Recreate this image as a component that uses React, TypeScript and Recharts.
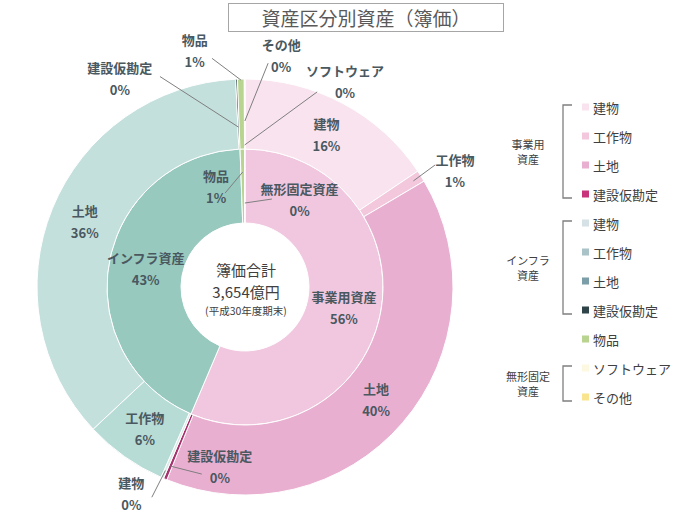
import React from 'react'
import { PieChart, Pie, Cell } from 'recharts'

// 億円（平成30年度期末）
const bizNames = ['建物', '工作物', '土地', '建設仮勘定']
const bizValues = [570, 33, 1448, 10]
const infraNames = ['建物', '工作物', '土地', '建設仮勘定']
const infraValues = [8, 234, 1325, 5]
const goodsName = '物品'
const goodsValue = 19
const intangibleNames = ['ソフトウェア', 'その他']
const intangibleValues = [1, 1]
const groupNames = ['事業用資産', 'インフラ資産', '物品', '無形固定資産']

const sum = (a: number[]) => a.reduce((s, v) => s + v, 0)

const outerData = [
    ...bizNames.map((name, i) => ({ name, value: bizValues[i] })),
    ...infraNames.map((name, i) => ({ name, value: infraValues[i] })),
    { name: goodsName, value: goodsValue },
    ...intangibleNames.map((name, i) => ({ name, value: intangibleValues[i] })),
]
const innerData = [
    { name: groupNames[0], value: sum(bizValues) },
    { name: groupNames[1], value: sum(infraValues) },
    { name: groupNames[2], value: goodsValue },
    { name: groupNames[3], value: sum(intangibleValues) },
]
const TOTAL = sum(outerData.map((d) => d.value))

const outerColors = ['#f9e3ee', '#f3c8dd', '#e9afd0', '#a8326f', '#d9ece8', '#b7dbd5', '#c4e0dc', '#2f4449', '#b8d490', '#fdf8e0', '#f9e590']
const innerColors = ['#f0c7df', '#97c9bf', '#b8d490', '#fdf8e0']
const legendColors = ['#f9e3ee', '#f3c8dd', '#e9afd0', '#c8347c', '#d5e1e4', '#a9c3c8', '#7c9ea8', '#2f4449', '#b8d490', '#fdf8e0', '#f9e590']

// 引き出し線つきラベルの位置（上から時計回りの角度, 半径）
const outerLeaders: Record<number, { at: number[]; from: number; to: number[] }> = {
    1: { at: [61, 240], from: 199, to: [57.3, 226] },
    3: { at: [188, 181], from: 194, to: [193, 192] },
    4: { at: [208.8, 236], from: 200, to: [203.9, 230] },
    7: { at: [329, 243], from: 160, to: [338, 227] },
    8: { at: [348, 242], from: 207, to: [351.8, 231] },
    9: { at: [25.9, 229], from: 142, to: [20.3, 208] },
    10: { at: [8.9, 234], from: 166, to: [5.9, 225] },
}
const innerLeaders: Record<number, { at: number[]; from: number; to: number[] }> = {
    2: { at: [344, 105], from: 115, to: [348, 96] },
    3: { at: [32, 103], from: 84, to: [17, 92] },
}

const FONT = '"Noto Sans CJK JP", "Noto Sans", sans-serif'
const RAD = Math.PI / 180
const pt = (cx: number, cy: number, r: number, cw: number) => ({
    x: cx + r * Math.sin(cw * RAD),
    y: cy - r * Math.cos(cw * RAD),
})

const makeLabel = (leaders: Record<number, { at: number[]; from: number; to: number[] }>) => (props: any) => {
    const { cx, cy, midAngle, innerRadius, outerRadius, index, name, value } = props
    const cw = 90 - midAngle
    const leader = leaders[index]
    const pos = leader ? pt(cx, cy, leader.at[1], leader.at[0]) : pt(cx, cy, (innerRadius + outerRadius) / 2, cw)
    const pct = Math.round((value / TOTAL) * 100)
    let line = null
    if (leader) {
        const a = pt(cx, cy, leader.from, cw)
        const b = pt(cx, cy, leader.to[1], leader.to[0])
        line = <line x1={a.x} y1={a.y} x2={b.x} y2={b.y} stroke="#7f7f7f" strokeWidth={1} />
    }
    return (
        <g>
            {line}
            <text x={pos.x} y={pos.y - 11} textAnchor="middle" dominantBaseline="central"
                fill="#4a5860" fontSize={13} fontWeight={700} fontFamily={FONT}>{name}</text>
            <text x={pos.x} y={pos.y + 11} textAnchor="middle" dominantBaseline="central"
                fill="#4a5860" fontSize={13} fontWeight={700} fontFamily={FONT}>{pct}%</text>
        </g>
    )
}

const legendGroups = [
    { label: ['事業用', '資産'], from: 0, to: 3 },
    { label: ['インフラ', '資産'], from: 4, to: 7 },
    { label: ['無形固定', '資産'], from: 9, to: 10 },
]
const legendNames = [...bizNames, ...infraNames, goodsName, ...intangibleNames]

const ChartLegend = () => {
    const rowY = (i: number) => 12 + i * 29
    return (
        <svg width={200} height={330} style={{ position: 'absolute', left: 490, top: 95, fontFamily: FONT }}>
            {legendNames.map((n, i) => (
                <g key={i}>
                    <rect x={92} y={rowY(i) - 3.5} width={7} height={7} fill={legendColors[i]} />
                    <text x={103} y={rowY(i)} dominantBaseline="central" fontSize={13} fill="#404040">{n}</text>
                </g>
            ))}
            {legendGroups.map((g, i) => {
                const y1 = rowY(g.from) - 2
                const y2 = rowY(g.to) + 4
                const mid = (y1 + y2) / 2
                return (
                    <g key={i}>
                        <path d={`M82 ${y1} H73 V${y2} H82`} fill="none" stroke="#7f7f7f" strokeWidth={1.3} />
                        <text x={38} y={mid - 8} textAnchor="middle" dominantBaseline="central" fontSize={11} fill="#404040">{g.label[0]}</text>
                        <text x={38} y={mid + 7} textAnchor="middle" dominantBaseline="central" fontSize={11} fill="#404040">{g.label[1]}</text>
                    </g>
                )
            })}
        </svg>
    )
}

const centerLines = [
    { text: '簿価合計', size: 15, y: 270 },
    { text: '3,654億円', size: 15, y: 292 },
    { text: '(平成30年度期末)', size: 10.5, y: 311 },
]

export default function App() {
    return (
        <div style={{ position: 'absolute', left: 0, top: 0, width: 700, height: 525, background: '#fff', fontFamily: FONT }}>
            <div style={{
                position: 'absolute', left: 228, top: 3, width: 276, height: 29, border: '1px solid #a6a6a6',
                boxSizing: 'border-box', textAlign: 'center', fontSize: 19, lineHeight: '27px', color: '#595959',
            }}>資産区分別資産（簿価）</div>
            <PieChart width={700} height={525} margin={{ top: 0, right: 0, bottom: 0, left: 0 }}>
                <Pie data={innerData} dataKey="value" nameKey="name" cx={245} cy={287}
                    innerRadius={64} outerRadius={138} startAngle={90} endAngle={-270}
                    stroke="#fff" strokeWidth={1} isAnimationActive={false}
                    labelLine={false} label={makeLabel(innerLeaders)}>
                    {innerData.map((d, i) => <Cell key={i} fill={innerColors[i]} />)}
                </Pie>
                <Pie data={outerData} dataKey="value" nameKey="name" cx={245} cy={287}
                    innerRadius={138} outerRadius={208} startAngle={90} endAngle={-270}
                    stroke="#fff" strokeWidth={1} isAnimationActive={false}
                    labelLine={false} label={makeLabel(outerLeaders)}>
                    {outerData.map((d, i) => <Cell key={i} fill={outerColors[i]} />)}
                </Pie>
            </PieChart>
            {centerLines.map((l, i) => (
                <div key={i} style={{
                    position: 'absolute', left: 176, width: 140, top: l.y - 8, height: 16, textAlign: 'center',
                    color: '#404040', fontSize: l.size, lineHeight: '16px', whiteSpace: 'nowrap',
                }}>{l.text}</div>
            ))}
            <ChartLegend />
        </div>
    )
}
